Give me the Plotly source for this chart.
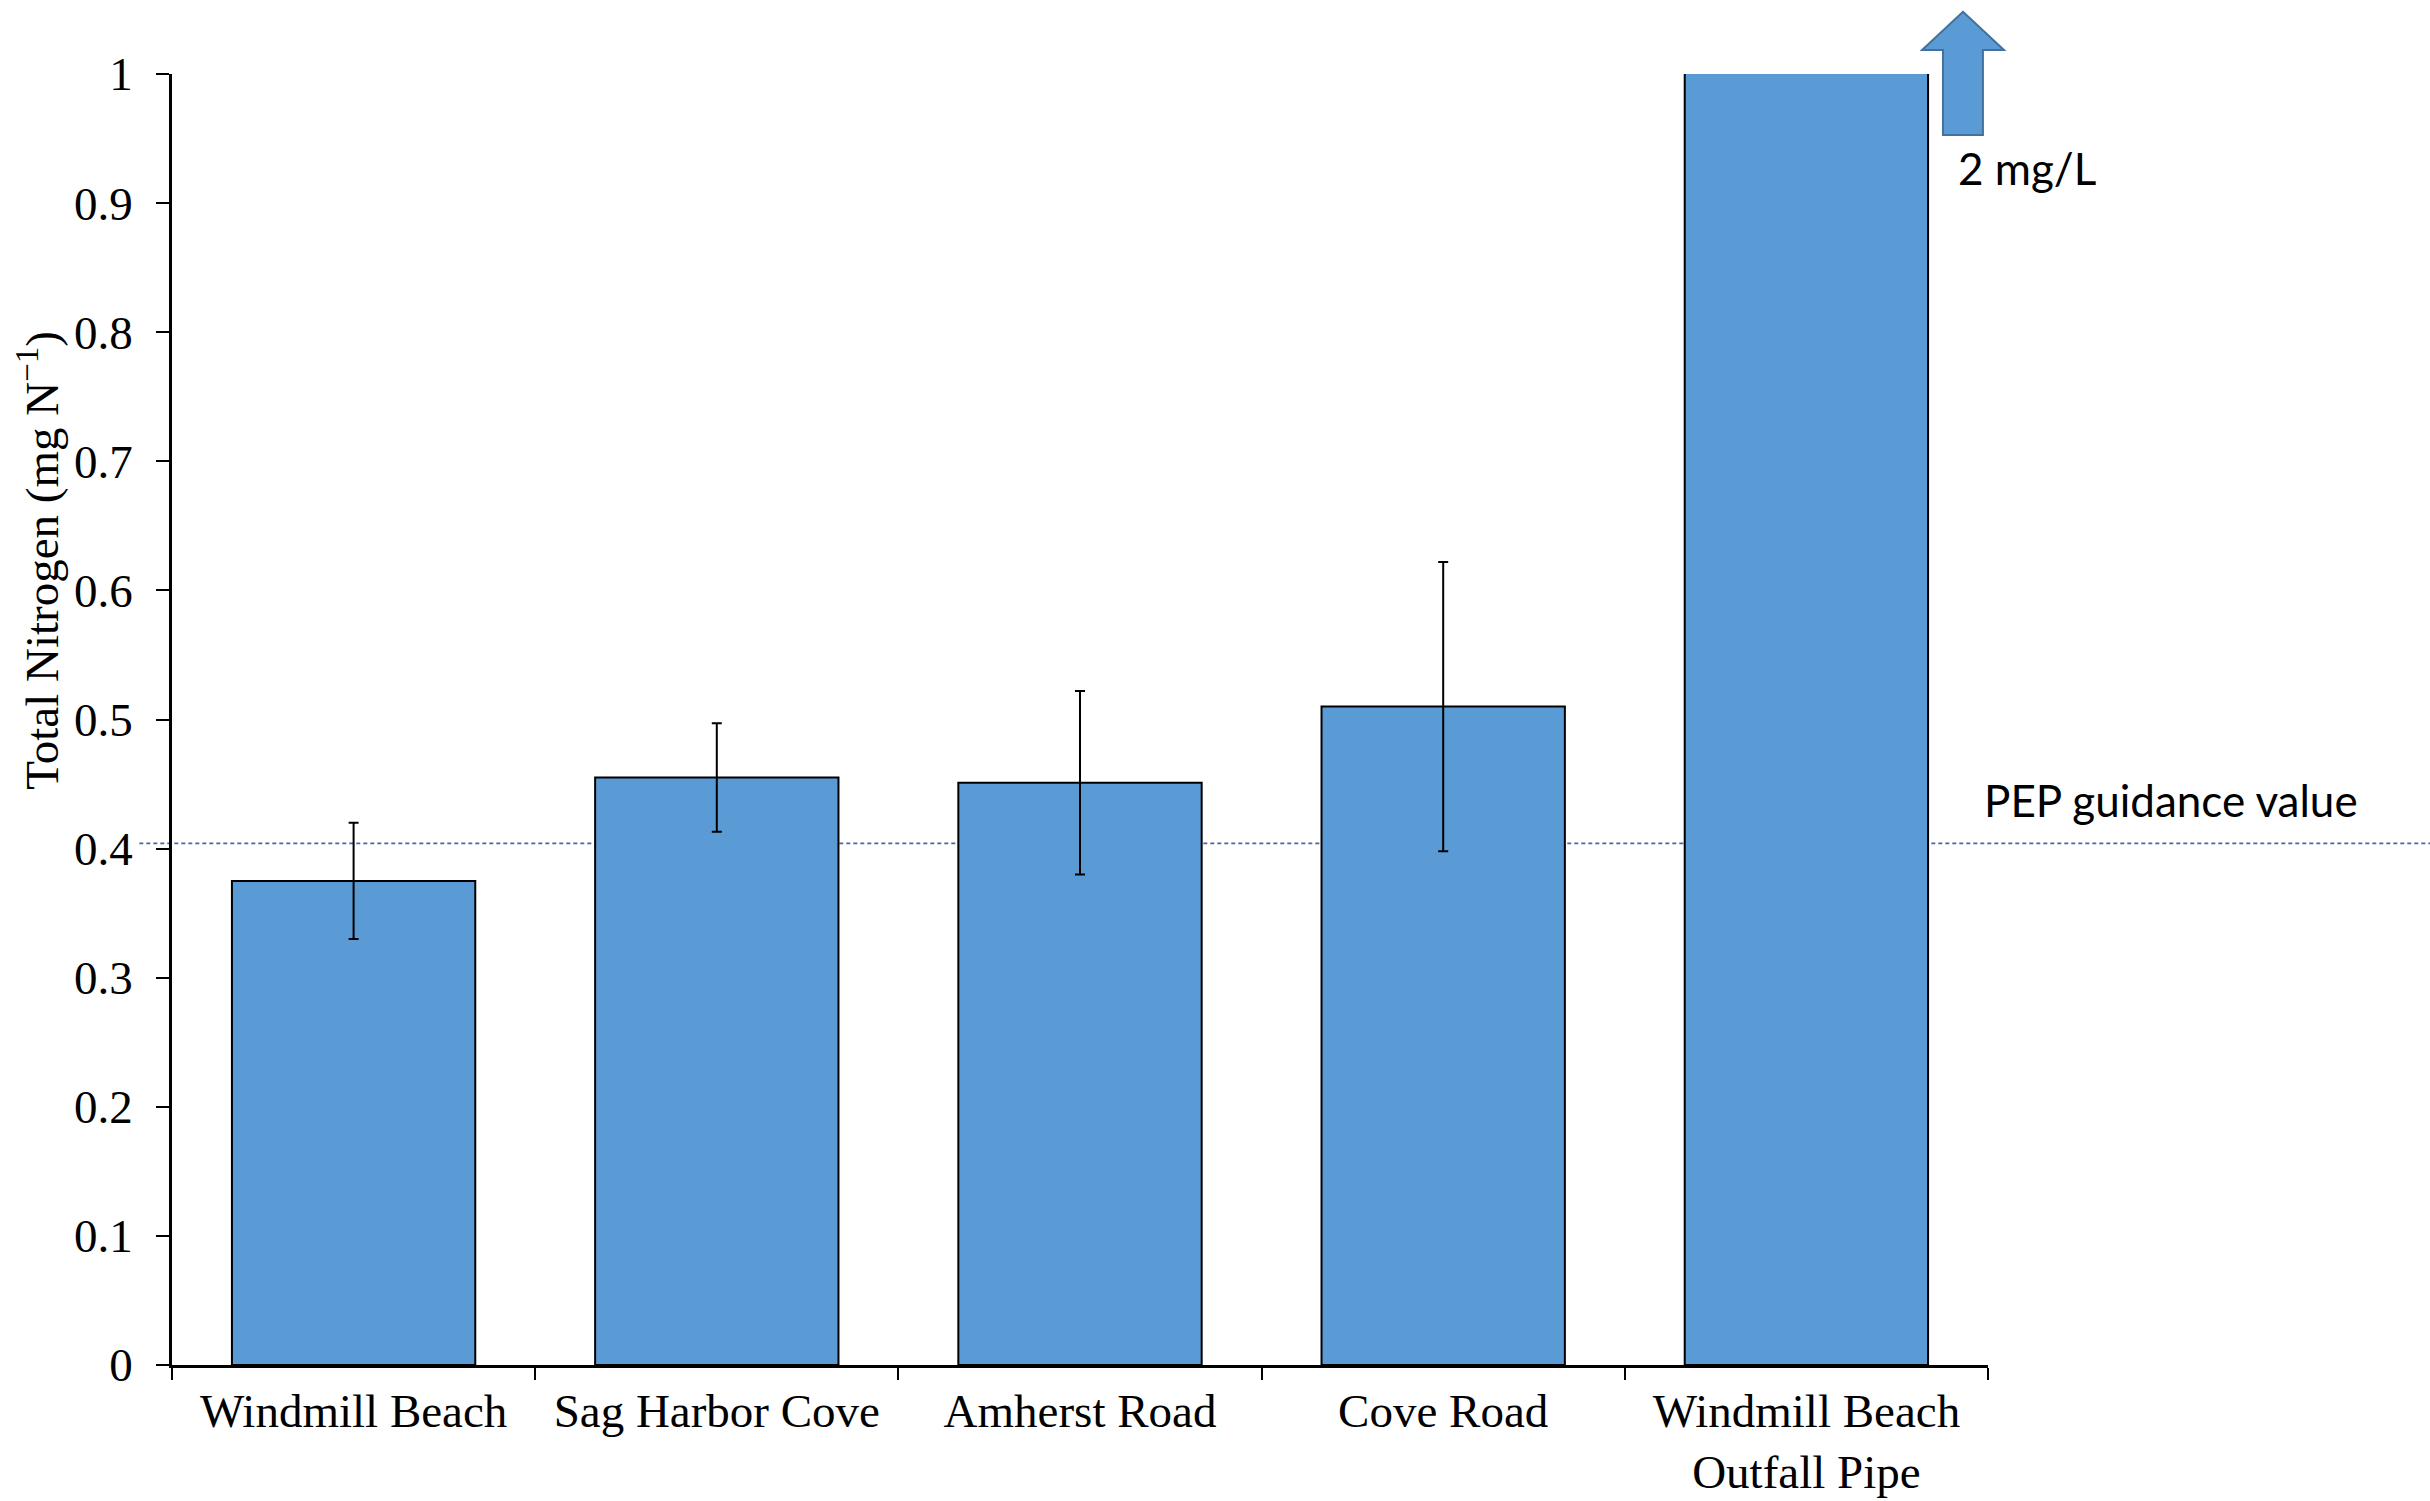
import plotly.graph_objects as go

# sites along the x axis
sites = ["Windmill Beach", "Sag Harbor Cove", "Amherst Road", "Cove Road",
         "Windmill Beach<br>Outfall Pipe"]
# mean total nitrogen (mg/L); outfall pipe is off the chart at 2 mg/L
total_n = [0.375, 0.455, 0.451, 0.510, 2.0]
# error bar half-lengths
total_n_err = [0.045, 0.042, 0.071, 0.112, 0.0]
guidance_value = 0.404
y_ticks = [0, 0.1, 0.2, 0.3, 0.4, 0.5, 0.6, 0.7, 0.8, 0.9, 1]

BAR_BLUE = "#5B9BD5"
serif = "Liberation Serif"

fig = go.Figure()
fig.add_trace(go.Bar(
    x=sites,
    y=total_n,
    marker=dict(color=BAR_BLUE, line=dict(color="black", width=2)),
    error_y=dict(type="data", array=total_n_err, visible=True,
                 color="black", thickness=2, width=5),
    showlegend=False,
))

# dashed guidance line, runs past the plot to the page edge
fig.add_shape(type="line", xref="paper", yref="y", x0=-0.018, x1=1.35,
              y0=guidance_value, y1=guidance_value, layer="below",
              line=dict(color="#4C64A0", width=1.8, dash="4px,3px"))

# block arrow marking the off-scale bar
fig.add_shape(type="path", xref="paper", yref="paper",
              path="M 0.9862,1.0482 L 1.0088,1.0186 L 0.9972,1.0186 L 0.9972,0.9527 "
                   "L 0.9752,0.9527 L 0.9752,1.0186 L 0.9637,1.0186 Z",
              fillcolor=BAR_BLUE, line=dict(color="#41719C", width=2))

fig.add_annotation(text="2 mg/L", xref="paper", yref="paper", x=1, y=1,
                   xanchor="left", yanchor="middle", xshift=-32, yshift=-94,
                   showarrow=False, font=dict(family="Lato", size=44, color="black"))
fig.add_annotation(text="PEP guidance value", xref="paper", yref="y", x=1, y=guidance_value,
                   xanchor="left", yanchor="middle", xshift=-6, yshift=43,
                   showarrow=False, font=dict(family="Lato", size=44, color="black"))
fig.add_annotation(text="Total Nitrogen (mg N<sup>−1</sup>)", xref="paper", yref="paper",
                   x=0, y=0.623, xshift=-133, textangle=-90, showarrow=False,
                   xanchor="center", yanchor="middle",
                   font=dict(family=serif, size=47, color="black"))

fig.update_layout(
    width=2430, height=1501,
    margin=dict(l=172, r=442, t=74, b=136, autoexpand=False),
    plot_bgcolor="white", paper_bgcolor="white",
    bargap=0.33,
)
fig.update_xaxes(
    showline=True, linecolor="black", linewidth=2.5, automargin=False,
    ticks="outside", tickson="boundaries", ticklen=12, tickwidth=1.5, tickcolor="black",
    tickfont=dict(family=serif, size=47, color="black"),
    ticklabelstandoff=3, showgrid=False, zeroline=False,
)
fig.update_yaxes(
    range=[0, 1], tickvals=y_ticks, ticktext=[f"{v:g}" for v in y_ticks],
    showline=True, linecolor="black", linewidth=2.5, automargin=False,
    ticks="outside", ticklen=13, tickwidth=2, tickcolor="black",
    tickfont=dict(family=serif, size=47, color="black"),
    ticklabelstandoff=14, showgrid=False, zeroline=False,
)

fig.write_html("out.html", config={"displayModeBar": False},
               post_script="document.body.style.margin='0';")
